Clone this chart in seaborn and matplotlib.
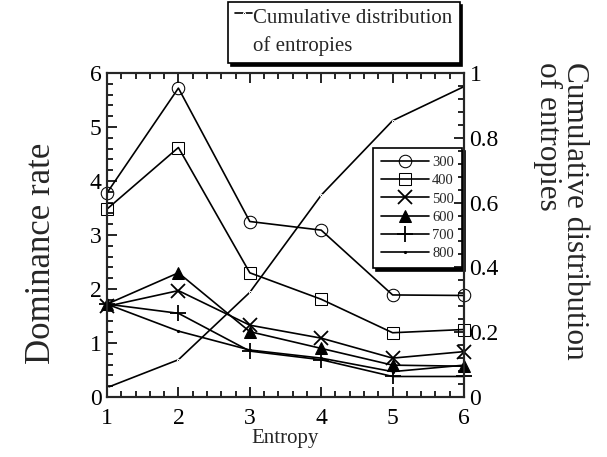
import matplotlib
matplotlib.use("Agg")
import matplotlib.pyplot as plt
import seaborn as sns
import numpy as np
import pandas as pd
from matplotlib.ticker import MultipleLocator, FormatStrFormatter
from matplotlib.legend_handler import HandlerLine2D

entropy = [1, 2, 3, 4, 5, 6]
series_names = ["300", "400", "500", "600", "700", "800"]
dom_300 = [3.78, 5.72, 3.25, 3.09, 1.89, 1.88]
dom_400 = [3.48, 4.62, 2.30, 1.81, 1.19, 1.25]
dom_500 = [1.68, 1.97, 1.33, 1.09, 0.72, 0.84]
dom_600 = [1.72, 2.30, 1.21, 0.90, 0.59, 0.57]
dom_700 = [1.72, 1.55, 0.85, 0.69, 0.38, 0.38]
dom_800 = [1.72, 1.22, 0.87, 0.72, 0.47, 0.59]
cumulative = [0.029, 0.115, 0.323, 0.623, 0.853, 0.958]

sns.set_theme(style="ticks")
plt.rcParams['font.family'] = ['Liberation Serif', 'DejaVu Serif']
plt.rcParams['mathtext.fontset'] = 'stix'

fig = plt.figure(figsize=(6.07, 4.57), dpi=100)
ax = fig.add_axes([107/607, 1-397/457, (464-107)/607, (397-73)/457])

all_vals = [dom_300, dom_400, dom_500, dom_600, dom_700, dom_800]
styles = [
    dict(marker='o', markersize=9, markerfacecolor='none'),
    dict(marker='s', markersize=9, markerfacecolor='none'),
    dict(marker='x', markersize=10, markeredgewidth=1.3),
    dict(marker='^', markersize=8, markerfacecolor='black'),
    dict(marker='+', markersize=12, markeredgewidth=1.3),
    dict(marker='.', markersize=3),
]
for name, vals, st in zip(series_names, all_vals, styles):
    df = pd.DataFrame({"Entropy": entropy, "Dominance": vals})
    sns.lineplot(data=df, x="Entropy", y="Dominance", ax=ax, color='black',
                 linewidth=1.2, label=name, markeredgecolor='black', clip_on=False, **st)

ax.set_xlim(1, 6)
ax.set_ylim(0, 6)
ax.xaxis.set_major_locator(MultipleLocator(1))
ax.xaxis.set_minor_locator(MultipleLocator(0.2))
ax.yaxis.set_major_locator(MultipleLocator(1))
ax.yaxis.set_minor_locator(MultipleLocator(0.2))
ax.tick_params(which='both', direction='in', top=True, right=False, labelsize=17, colors='black', width=1.2)
ax.tick_params(which='major', length=7)
ax.tick_params(which='minor', length=4)
ax.tick_params(axis='x', which='both', pad=8)
ax.tick_params(axis='y', which='both', pad=4)
ax.set_xlabel("Entropy", fontsize=15, labelpad=0)
ax.set_ylabel("")
for s in ax.spines.values():
    s.set_linewidth(1.5)
    s.set_color('black')

fig.text(42/607, 1-253/457, "Dominance rate", fontsize=25, rotation=90,
         ha='center', va='center')

ax2 = ax.twinx()
dfc = pd.DataFrame({"Entropy": entropy, "Cum": cumulative})
sns.lineplot(data=dfc, x="Entropy", y="Cum", ax=ax2, color='black', linewidth=1.2,
             marker='.', markersize=3, label="Cumulative distribution\nof entropies", legend=False)
ax2.set_ylim(0, 1)
ax2.yaxis.set_major_locator(MultipleLocator(0.2))
ax2.yaxis.set_minor_locator(MultipleLocator(0.04))
ax2.yaxis.set_major_formatter(FormatStrFormatter('%g'))
ax2.tick_params(which='both', direction='in', labelsize=17, colors='black', width=1.2, pad=4)
ax2.tick_params(which='major', length=7)
ax2.tick_params(which='minor', length=4)
ax2.set_ylabel("")
for s in ax2.spines.values():
    s.set_linewidth(1.5)

fig.text(561/607, 1-62/457, "Cumulative distribution\nof entropies", fontsize=22.5,
         rotation=270, ha='center', va='top', multialignment='left', linespacing=0.95)

shadow = {'facecolor': 'black', 'edgecolor': 'black', 'alpha': 1}
h, l = ax.get_legend_handles_labels()
leg = ax.legend(h, l, loc='upper right', bbox_to_anchor=(462/607, 1-148/457),
                bbox_transform=fig.transFigure, fontsize=10.5, frameon=True, fancybox=False,
                shadow=shadow, handlelength=3.3, handletextpad=0.2, labelspacing=0.34,
                borderpad=0.55, borderaxespad=0)
leg.get_frame().set_edgecolor('black')
leg.get_frame().set_linewidth(1.2)
leg.set_zorder(10)


class RaisedLine(HandlerLine2D):
    def create_artists(self, legend, orig_handle, xdescent, ydescent, width, height, fontsize, trans):
        return super().create_artists(legend, orig_handle, xdescent, ydescent - 1.8 * fontsize,
                                      width, height, fontsize, trans)


h2, l2 = ax2.get_legend_handles_labels()
leg2 = fig.legend(h2, l2, loc='upper left', bbox_to_anchor=(228/607, 1-2/457),
                  fontsize=15, frameon=True, fancybox=False, shadow=shadow,
                  handlelength=0.8, handletextpad=0.05, borderpad=0.35, borderaxespad=0,
                  labelspacing=0.1, handler_map={h2[0]: RaisedLine()})
leg2.get_frame().set_edgecolor('black')
leg2.get_frame().set_linewidth(1.2)
for t in leg2.get_texts():
    t.set_linespacing(1.5)

fig.savefig("out.png", dpi=100)
